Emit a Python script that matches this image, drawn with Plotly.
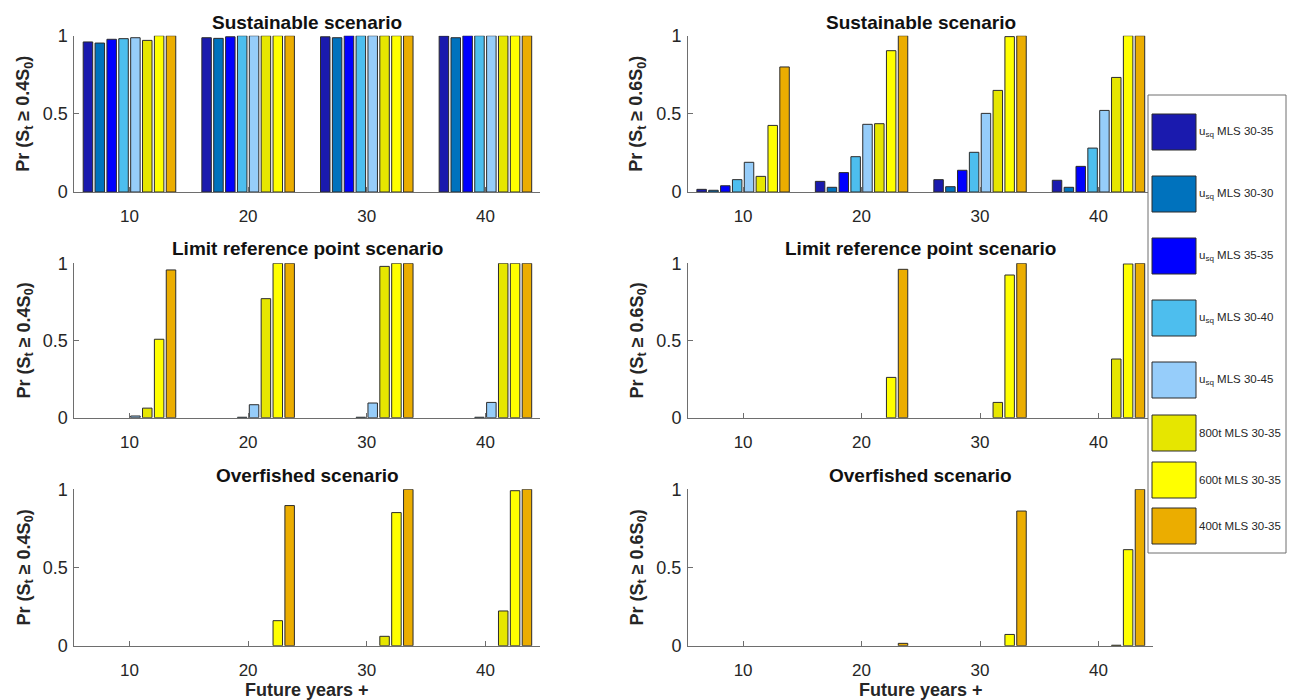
import plotly.graph_objects as go

# ---------------- data ----------------
years = [10, 20, 30, 40]
series_names = ["u<sub>sq</sub> MLS 30-35", "u<sub>sq</sub> MLS 30-30", "u<sub>sq</sub> MLS 35-35",
                "u<sub>sq</sub> MLS 30-40", "u<sub>sq</sub> MLS 30-45",
                "800t MLS 30-35", "600t MLS 30-35", "400t MLS 30-35"]
colors = ["#1A1AAE", "#0072BD", "#0000FF", "#4DBEEE", "#96CDFA", "#E6E600", "#FFFF00", "#EBAD00"]

# values per series (rows) x years (cols)
sust_04 = [
    [0.960, 0.987, 0.993, 0.998],
    [0.953, 0.983, 0.987, 0.987],
    [0.977, 0.993, 1.000, 1.000],
    [0.981, 1.000, 1.000, 1.000],
    [0.987, 1.000, 1.000, 1.000],
    [0.970, 1.000, 1.000, 1.000],
    [1.000, 1.000, 1.000, 1.000],
    [1.000, 1.000, 1.000, 1.000],
]
sust_06 = [
    [0.017, 0.068, 0.079, 0.075],
    [0.011, 0.030, 0.034, 0.030],
    [0.040, 0.124, 0.139, 0.164],
    [0.079, 0.226, 0.254, 0.281],
    [0.190, 0.433, 0.503, 0.522],
    [0.100, 0.437, 0.650, 0.733],
    [0.426, 0.904, 0.994, 1.000],
    [0.800, 1.000, 1.000, 1.000],
]
limit_04 = [
    [0.0, 0.0, 0.0, 0.0],
    [0.0, 0.0, 0.0, 0.0],
    [0.0, 0.0, 0.0, 0.0],
    [0.0, 0.003, 0.003, 0.003],
    [0.011, 0.084, 0.095, 0.099],
    [0.062, 0.771, 0.980, 1.000],
    [0.508, 1.000, 1.000, 1.000],
    [0.957, 1.000, 1.000, 1.000],
]
limit_06 = [
    [0.0, 0.0, 0.0, 0.0],
    [0.0, 0.0, 0.0, 0.0],
    [0.0, 0.0, 0.0, 0.0],
    [0.0, 0.0, 0.0, 0.0],
    [0.0, 0.0, 0.0, 0.0],
    [0.0, 0.0, 0.099, 0.380],
    [0.0, 0.261, 0.924, 0.996],
    [0.0, 0.961, 1.000, 1.000],
]
over_04 = [
    [0.0, 0.0, 0.0, 0.0],
    [0.0, 0.0, 0.0, 0.0],
    [0.0, 0.0, 0.0, 0.0],
    [0.0, 0.0, 0.0, 0.0],
    [0.0, 0.0, 0.0, 0.0],
    [0.0, 0.0, 0.060, 0.222],
    [0.0, 0.160, 0.851, 0.991],
    [0.0, 0.896, 1.000, 1.000],
]
over_06 = [
    [0.0, 0.0, 0.0, 0.0],
    [0.0, 0.0, 0.0, 0.0],
    [0.0, 0.0, 0.0, 0.0],
    [0.0, 0.0, 0.0, 0.0],
    [0.0, 0.0, 0.0, 0.0],
    [0.0, 0.0, 0.0, 0.003],
    [0.0, 0.0, 0.072, 0.614],
    [0.0, 0.015, 0.861, 1.000],
]
titles = ["Sustainable scenario", "Limit reference point scenario", "Overfished scenario"]
ylab_04 = "Pr (S<sub>t</sub> ≥ 0.4S<sub>0</sub>)"
ylab_06 = "Pr (S<sub>t</sub> ≥ 0.6S<sub>0</sub>)"
xlab = "Future years +"

# ---------------- layout ----------------
W, H = 1295, 700
FONT = "Liberation Sans, Arial, Helvetica, sans-serif"
TXT = "#262626"
AX = "#6e6e6e"

def px_x(p):
    return p / W

def px_y(p):
    return 1 - p / H

col_dom = [(px_x(74.3), px_x(540)), (px_x(688), px_x(1153))]
row_dom = [(px_y(192), px_y(35.7)), (px_y(417.7), px_y(263.3)), (px_y(645.7), px_y(489.3))]
title_y = [22, 249, 475]
ytitle_x = [25, 638]
xtitle_y = 690

panels = [  # (row, col, data, ylabel)
    (0, 0, sust_04, ylab_04), (0, 1, sust_06, ylab_06),
    (1, 0, limit_04, ylab_04), (1, 1, limit_06, ylab_06),
    (2, 0, over_04, ylab_04), (2, 1, over_06, ylab_06),
]

fig = go.Figure()
layout = dict(
    width=W, height=H, margin=dict(l=0, r=0, t=0, b=0, autoexpand=False),
    paper_bgcolor="white", plot_bgcolor="white",
    barmode="group", bargap=0.2, bargroupgap=0.2,
    showlegend=False,
    font=dict(family=FONT, color=TXT, size=16),
)
annotations = []
shapes = []

for k, (r, c, data, ylab) in enumerate(panels):
    idx = k + 1
    xa = "x" if idx == 1 else f"x{idx}"
    ya = "y" if idx == 1 else f"y{idx}"
    for s in range(len(series_names)):
        vals = data[s]
        fig.add_trace(go.Bar(
            x=years, y=vals, name=series_names[s],
            marker=dict(color=colors[s],
                        line=dict(color="#2b2b2b", width=[1 if v > 0 else 0 for v in vals])),
            xaxis=xa, yaxis=ya, showlegend=False,
        ))
    xkey = "xaxis" if idx == 1 else f"xaxis{idx}"
    ykey = "yaxis" if idx == 1 else f"yaxis{idx}"
    layout[xkey] = dict(
        domain=list(col_dom[c]), anchor=ya, range=[5.35, 44.6], automargin=False,
        tickvals=years, ticktext=[str(v) for v in years],
        ticks="inside", ticklen=5, tickcolor=AX, tickwidth=1, ticklabelstandoff=9,
        showline=True, linecolor=AX, linewidth=1, mirror=False,
        showgrid=False, zeroline=False,
        tickfont=dict(size=17, color=TXT, family=FONT),
    )
    layout[ykey] = dict(
        domain=list(row_dom[r]), anchor=xa, range=[0, 1], automargin=False,
        tickvals=[0, 0.5, 1], ticktext=["0", "0.5", "1"],
        ticks="inside", ticklen=5, tickcolor=AX, tickwidth=1, ticklabelstandoff=2,
        showline=True, linecolor=AX, linewidth=1, mirror=False,
        showgrid=False, zeroline=False,
        tickfont=dict(size=18, color=TXT, family=FONT),
    )
    # panel title
    annotations.append(dict(
        text=f"<b>{titles[r]}</b>", xref="paper", yref="paper",
        x=(col_dom[c][0] + col_dom[c][1]) / 2, y=px_y(title_y[r]),
        xanchor="center", yanchor="middle", showarrow=False,
        font=dict(size=19, color="#111111", family=FONT),
    ))
    # y-axis title
    annotations.append(dict(
        text=f"<b>{ylab}</b>", xref="paper", yref="paper", textangle=-90,
        x=px_x(ytitle_x[c]), y=(row_dom[r][0] + row_dom[r][1]) / 2,
        xanchor="center", yanchor="middle", showarrow=False,
        font=dict(size=18, color=TXT, family=FONT),
    ))
    # x-axis title (bottom row only)
    if r == 2:
        annotations.append(dict(
            text=f"<b>{xlab}</b>", xref="paper", yref="paper",
            x=(col_dom[c][0] + col_dom[c][1]) / 2, y=px_y(xtitle_y),
            xanchor="center", yanchor="middle", showarrow=False,
            font=dict(size=18, color=TXT, family=FONT),
        ))

# ---------------- legend (drawn manually, MATLAB-style big swatches) ----------------
leg_box = (1148, 95, 1286, 553)
shapes.append(dict(type="rect", xref="paper", yref="paper", layer="above",
                   x0=px_x(leg_box[0]), x1=px_x(leg_box[2]),
                   y0=px_y(leg_box[3]), y1=px_y(leg_box[1]),
                   fillcolor="white", line=dict(color="#6e6e6e", width=1)))
sw_tops = [114, 176, 238, 300, 362, 415, 462, 508]
sw_h = 36
for s, top in enumerate(sw_tops):
    shapes.append(dict(type="rect", xref="paper", yref="paper", layer="above",
                       x0=px_x(1152), x1=px_x(1196), y0=px_y(top + sw_h), y1=px_y(top),
                       fillcolor=colors[s], line=dict(color="#2b2b2b", width=1)))
    annotations.append(dict(
        text=series_names[s], xref="paper", yref="paper",
        x=px_x(1197), y=px_y(top + sw_h / 2), xanchor="left", yanchor="middle",
        showarrow=False, font=dict(size=11.5, color=TXT, family=FONT),
    ))

layout["annotations"] = annotations
layout["shapes"] = shapes
fig.update_layout(**layout)
fig.write_html("out.html", config={"displayModeBar": False},
               post_script="document.body.style.margin='0px';")
